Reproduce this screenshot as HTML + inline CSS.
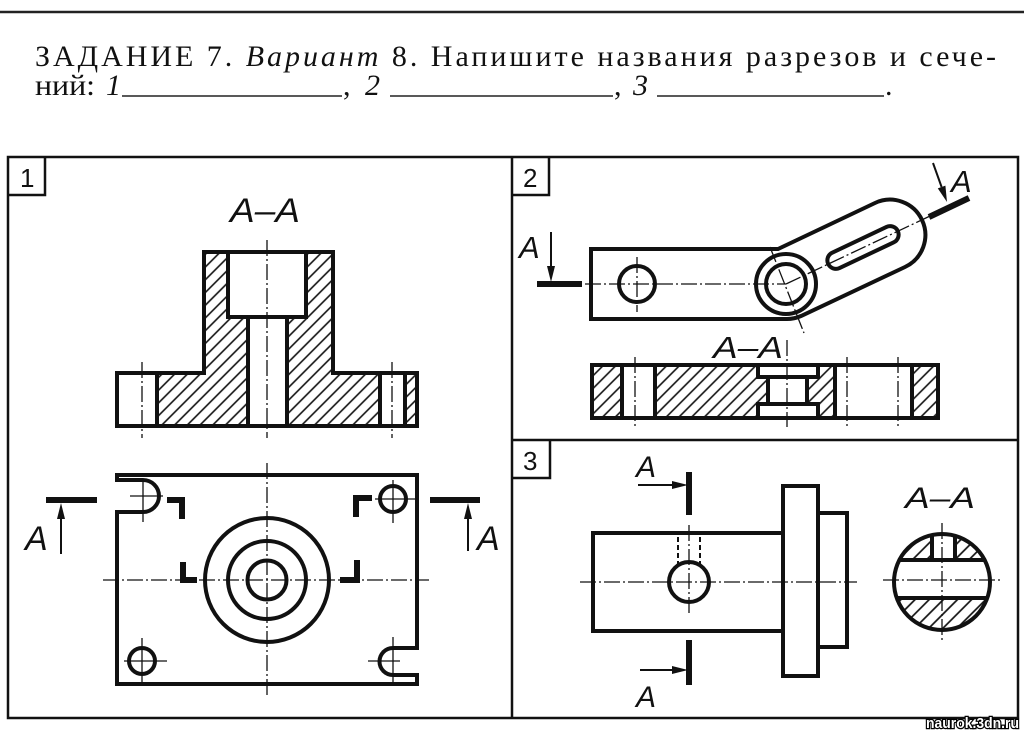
<!DOCTYPE html>
<html><head><meta charset="utf-8">
<style>html,body{margin:0;padding:0;background:#fff;}svg{display:block;}</style>
</head><body>
<svg width="1024" height="731" viewBox="0 0 1024 731" xmlns="http://www.w3.org/2000/svg">
<defs>
<pattern id="h" patternUnits="userSpaceOnUse" width="9" height="9" patternTransform="rotate(45)">
<line x1="1" y1="0" x2="1" y2="9" stroke="#111" stroke-width="1.6"/>
</pattern>
<pattern id="h2" patternUnits="userSpaceOnUse" width="10" height="10" patternTransform="rotate(45)">
<line x1="1" y1="0" x2="1" y2="10" stroke="#111" stroke-width="1.7"/>
</pattern>
<clipPath id="c3"><circle cx="942" cy="582" r="48"/></clipPath>
</defs>
<rect width="1024" height="731" fill="#fff"/>

<line x1="0" y1="12" x2="1024" y2="12" stroke="#222" stroke-width="2.5"/>

<g font-family="Liberation Serif, serif" font-size="30" fill="#111">
<text x="35" y="66" textLength="961" lengthAdjust="spacing">ЗАДАНИЕ 7. <tspan font-style="italic">Вариант</tspan> 8. Напишите названия разрезов и сече-</text>
<text x="35" y="95" textLength="60" lengthAdjust="spacingAndGlyphs">ний:</text>
<text x="106" y="95" font-style="italic">1</text>
<text x="343" y="95">,</text>
<text x="365" y="95" font-style="italic">2</text>
<text x="614" y="95">,</text>
<text x="633" y="95" font-style="italic">3</text>
<text x="885" y="95">.</text>
</g>
<g stroke="#222" stroke-width="1.6">
<line x1="122" y1="96" x2="342" y2="96"/>
<line x1="390" y1="96" x2="613" y2="96"/>
<line x1="657" y1="96" x2="884" y2="96"/>
</g>

<g fill="none" stroke="#111" stroke-width="2.5">
<rect x="8" y="157" width="1010" height="561"/>
<line x1="512" y1="157" x2="512" y2="718"/>
<line x1="512" y1="440" x2="1018" y2="440"/>
<path d="M8,195 H45 V157"/>
<path d="M512,195 H549 V157"/>
<path d="M512,478 H550 V440"/>
</g>
<g font-family="Liberation Sans, sans-serif" font-size="26" fill="#111">
<text x="20" y="187">1</text>
<text x="523" y="187">2</text>
<text x="523" y="470">3</text>
</g>

<g font-family="Liberation Sans, sans-serif" font-style="italic" font-size="34" fill="#111">
<text x="230" y="222" textLength="70" lengthAdjust="spacingAndGlyphs">A–A</text>
<text x="25" y="550">A</text>
<text x="477" y="550">A</text>
</g>
<path d="M204,252 H228 V317 H248 V426 H157 V373 H204 Z" fill="url(#h)"/>
<path d="M306,252 H333 V373 H380 V426 H287 V317 H306 Z" fill="url(#h)"/>
<path d="M405,373 H417 V426 H405 Z" fill="url(#h)"/>
<g fill="none" stroke="#111" stroke-width="4" stroke-linejoin="miter">
<path d="M204,252 H333 V373 H417 V426 H117 V373 H204 Z"/>
<path d="M228,252 V317 H306 V252"/>
<path d="M248,317 V426 M287,317 V426"/>
<path d="M157,373 V426 M380,373 V426 M405,373 V426"/>
</g>
<g stroke="#111" stroke-width="1.3" stroke-dasharray="16 3 2 3" fill="none">
<line x1="267" y1="240" x2="267" y2="438"/>
<line x1="142" y1="362" x2="142" y2="438"/>
<line x1="392" y1="362" x2="392" y2="438"/>
</g>

<g fill="none" stroke="#111" stroke-width="4">
<path d="M117,480 H143 A16,16 0 0 1 143,512 H117 V684 H417 V675 H393 A13.5,13.5 0 0 1 393,648 H417 V475 H117 Z"/>
<circle cx="393" cy="499" r="13"/>
<circle cx="142" cy="661" r="13"/>
<circle cx="267" cy="580" r="62"/>
<circle cx="267" cy="580" r="39"/>
<circle cx="267" cy="580" r="19.5"/>
</g>
<g stroke="#111" stroke-width="1.3" fill="none">
<line x1="130" y1="496" x2="163" y2="496"/>
<line x1="143" y1="482" x2="143" y2="522"/>
<line x1="375" y1="499" x2="417" y2="499"/>
<line x1="393" y1="480" x2="393" y2="523"/>
<line x1="124" y1="661" x2="167" y2="661"/>
<line x1="142" y1="638" x2="142" y2="683"/>
<line x1="368" y1="661" x2="400" y2="661"/>
<line x1="393" y1="637" x2="393" y2="684"/>
</g>
<g stroke="#111" stroke-width="1.3" stroke-dasharray="16 3 2 3" fill="none">
<line x1="267" y1="463" x2="267" y2="696"/>
<line x1="103" y1="580" x2="429" y2="580"/>
</g>
<g fill="none" stroke="#111" stroke-width="6" stroke-linejoin="miter" stroke-linecap="butt">
<path d="M167,500 H182 V519"/>
<path d="M372,498 H356 V517"/>
<path d="M183,562 V580 H197"/>
<path d="M340,580 H357 V560"/>
<line x1="46" y1="500" x2="97" y2="500"/>
<line x1="430" y1="500" x2="480" y2="500"/>
</g>
<g stroke="#111" stroke-width="2">
<line x1="61" y1="554" x2="61" y2="512"/>
<line x1="468" y1="551" x2="468" y2="512"/>
</g>
<polygon points="61,503 57,519 65,519" fill="#111"/>
<polygon points="468,503 464,519 472,519" fill="#111"/>

<g fill="none" stroke="#111" stroke-width="4">
<path d="M591,249 H778 L875,203 A35,35 0 0 1 905,267 L801,316 A35,35 0 0 1 786,319 H591 Z"/>
<circle cx="786" cy="284" r="30"/>
<circle cx="786" cy="284" r="20"/>
<circle cx="637" cy="284" r="18"/>
<rect x="-38.5" y="-8.5" width="77" height="17" rx="8.5" transform="translate(863,247.5) rotate(-25.3)"/>
</g>
<g stroke="#111" stroke-width="1.3" fill="none" stroke-dasharray="16 3 2 3">
<line x1="585" y1="284" x2="786" y2="284"/>
<line x1="786" y1="284" x2="929" y2="216.5"/>
<line x1="770" y1="247" x2="804" y2="333"/>
<line x1="637" y1="257" x2="637" y2="312"/>
</g>
<g stroke="#111" stroke-width="6">
<line x1="537" y1="284" x2="582" y2="284"/>
<line x1="929" y1="217" x2="969" y2="198"/>
</g>
<g stroke="#111" stroke-width="2">
<line x1="551" y1="232" x2="551" y2="268"/>
<line x1="933" y1="163" x2="941.6" y2="187"/>
</g>
<polygon points="551,282 547,266 555,266" fill="#111"/>
<polygon points="947,202 945.4,185.6 937.8,188.4" fill="#111"/>
<g font-family="Liberation Sans, sans-serif" font-style="italic" font-size="31" fill="#111">
<text x="519" y="258">A</text>
<text x="951" y="192">A</text>
<text x="713" y="358" textLength="70" lengthAdjust="spacingAndGlyphs">A–A</text>
</g>
<g fill="url(#h)">
<rect x="592" y="365" width="30" height="53"/>
<path d="M655,365 H758 V377 H768 V404 H758 V418 H655 Z"/>
<path d="M818,365 H835 V418 H818 V404 H807 V377 H818 Z"/>
<rect x="912" y="365" width="26" height="53"/>
</g>
<g fill="none" stroke="#111" stroke-width="4">
<rect x="592" y="365" width="346" height="53"/>
<path d="M622,365 V418 M655,365 V418 M835,365 V418 M912,365 V418"/>
<path d="M758,365 V377 H818 V365 M758,418 V404 H818 V418"/>
<path d="M768,377 V404 M807,377 V404"/>
</g>
<g stroke="#111" stroke-width="1.3" fill="none" stroke-dasharray="16 3 2 3">
<line x1="635" y1="357" x2="635" y2="427"/>
<line x1="787" y1="340" x2="787" y2="427"/>
<line x1="847" y1="357" x2="847" y2="427"/>
<line x1="898" y1="357" x2="898" y2="427"/>
</g>

<g fill="none" stroke="#111" stroke-width="4">
<path d="M783,533 H593 V631 H783"/>
<rect x="783" y="486" width="35" height="190"/>
<path d="M818,513 H847 V647 H818"/>
<circle cx="689" cy="582" r="20"/>
</g>
<g stroke="#111" stroke-width="2" stroke-dasharray="5 3" fill="none">
<line x1="678" y1="537" x2="678" y2="565"/>
<line x1="700" y1="537" x2="700" y2="565"/>
</g>
<g stroke="#111" stroke-width="1.3" fill="none" stroke-dasharray="16 3 2 3">
<line x1="689" y1="525" x2="689" y2="613"/>
<line x1="580" y1="582" x2="857" y2="582"/>
</g>
<g stroke="#111" stroke-width="6">
<line x1="689" y1="472" x2="689" y2="515"/>
<line x1="689" y1="640" x2="689" y2="685"/>
</g>
<g stroke="#111" stroke-width="2">
<line x1="638" y1="485" x2="672" y2="485"/>
<line x1="640" y1="670" x2="672" y2="670"/>
</g>
<polygon points="688,485 672,481 672,489" fill="#111"/>
<polygon points="688,670 672,666 672,674" fill="#111"/>
<g font-family="Liberation Sans, sans-serif" font-style="italic" font-size="30" fill="#111">
<text x="636" y="477">A</text>
<text x="636" y="707">A</text>
<text x="905" y="508" textLength="70" lengthAdjust="spacingAndGlyphs">A–A</text>
</g>
<g clip-path="url(#c3)">
<rect x="890" y="530" width="42" height="30" fill="url(#h2)"/>
<rect x="955" y="530" width="40" height="30" fill="url(#h2)"/>
<rect x="890" y="598" width="100" height="36" fill="url(#h2)"/>
</g>
<g fill="none" stroke="#111" stroke-width="4">
<circle cx="942" cy="582" r="48"/>
<line x1="898" y1="560" x2="986" y2="560"/>
<line x1="896" y1="598" x2="988" y2="598"/>
<line x1="932" y1="535" x2="932" y2="560"/>
<line x1="955" y1="536" x2="955" y2="560"/>
</g>
<g stroke="#111" stroke-width="1.3" fill="none" stroke-dasharray="16 3 2 3">
<line x1="942" y1="523" x2="942" y2="642"/>
<line x1="883" y1="580" x2="1002" y2="580"/>
</g>

<text x="926" y="728" font-family="Liberation Sans, sans-serif" font-weight="bold" font-size="15" fill="#fff" stroke="#000" stroke-width="2.5" paint-order="stroke" textLength="93" lengthAdjust="spacingAndGlyphs">naurok.3dn.ru</text>
</svg>
</body></html>
